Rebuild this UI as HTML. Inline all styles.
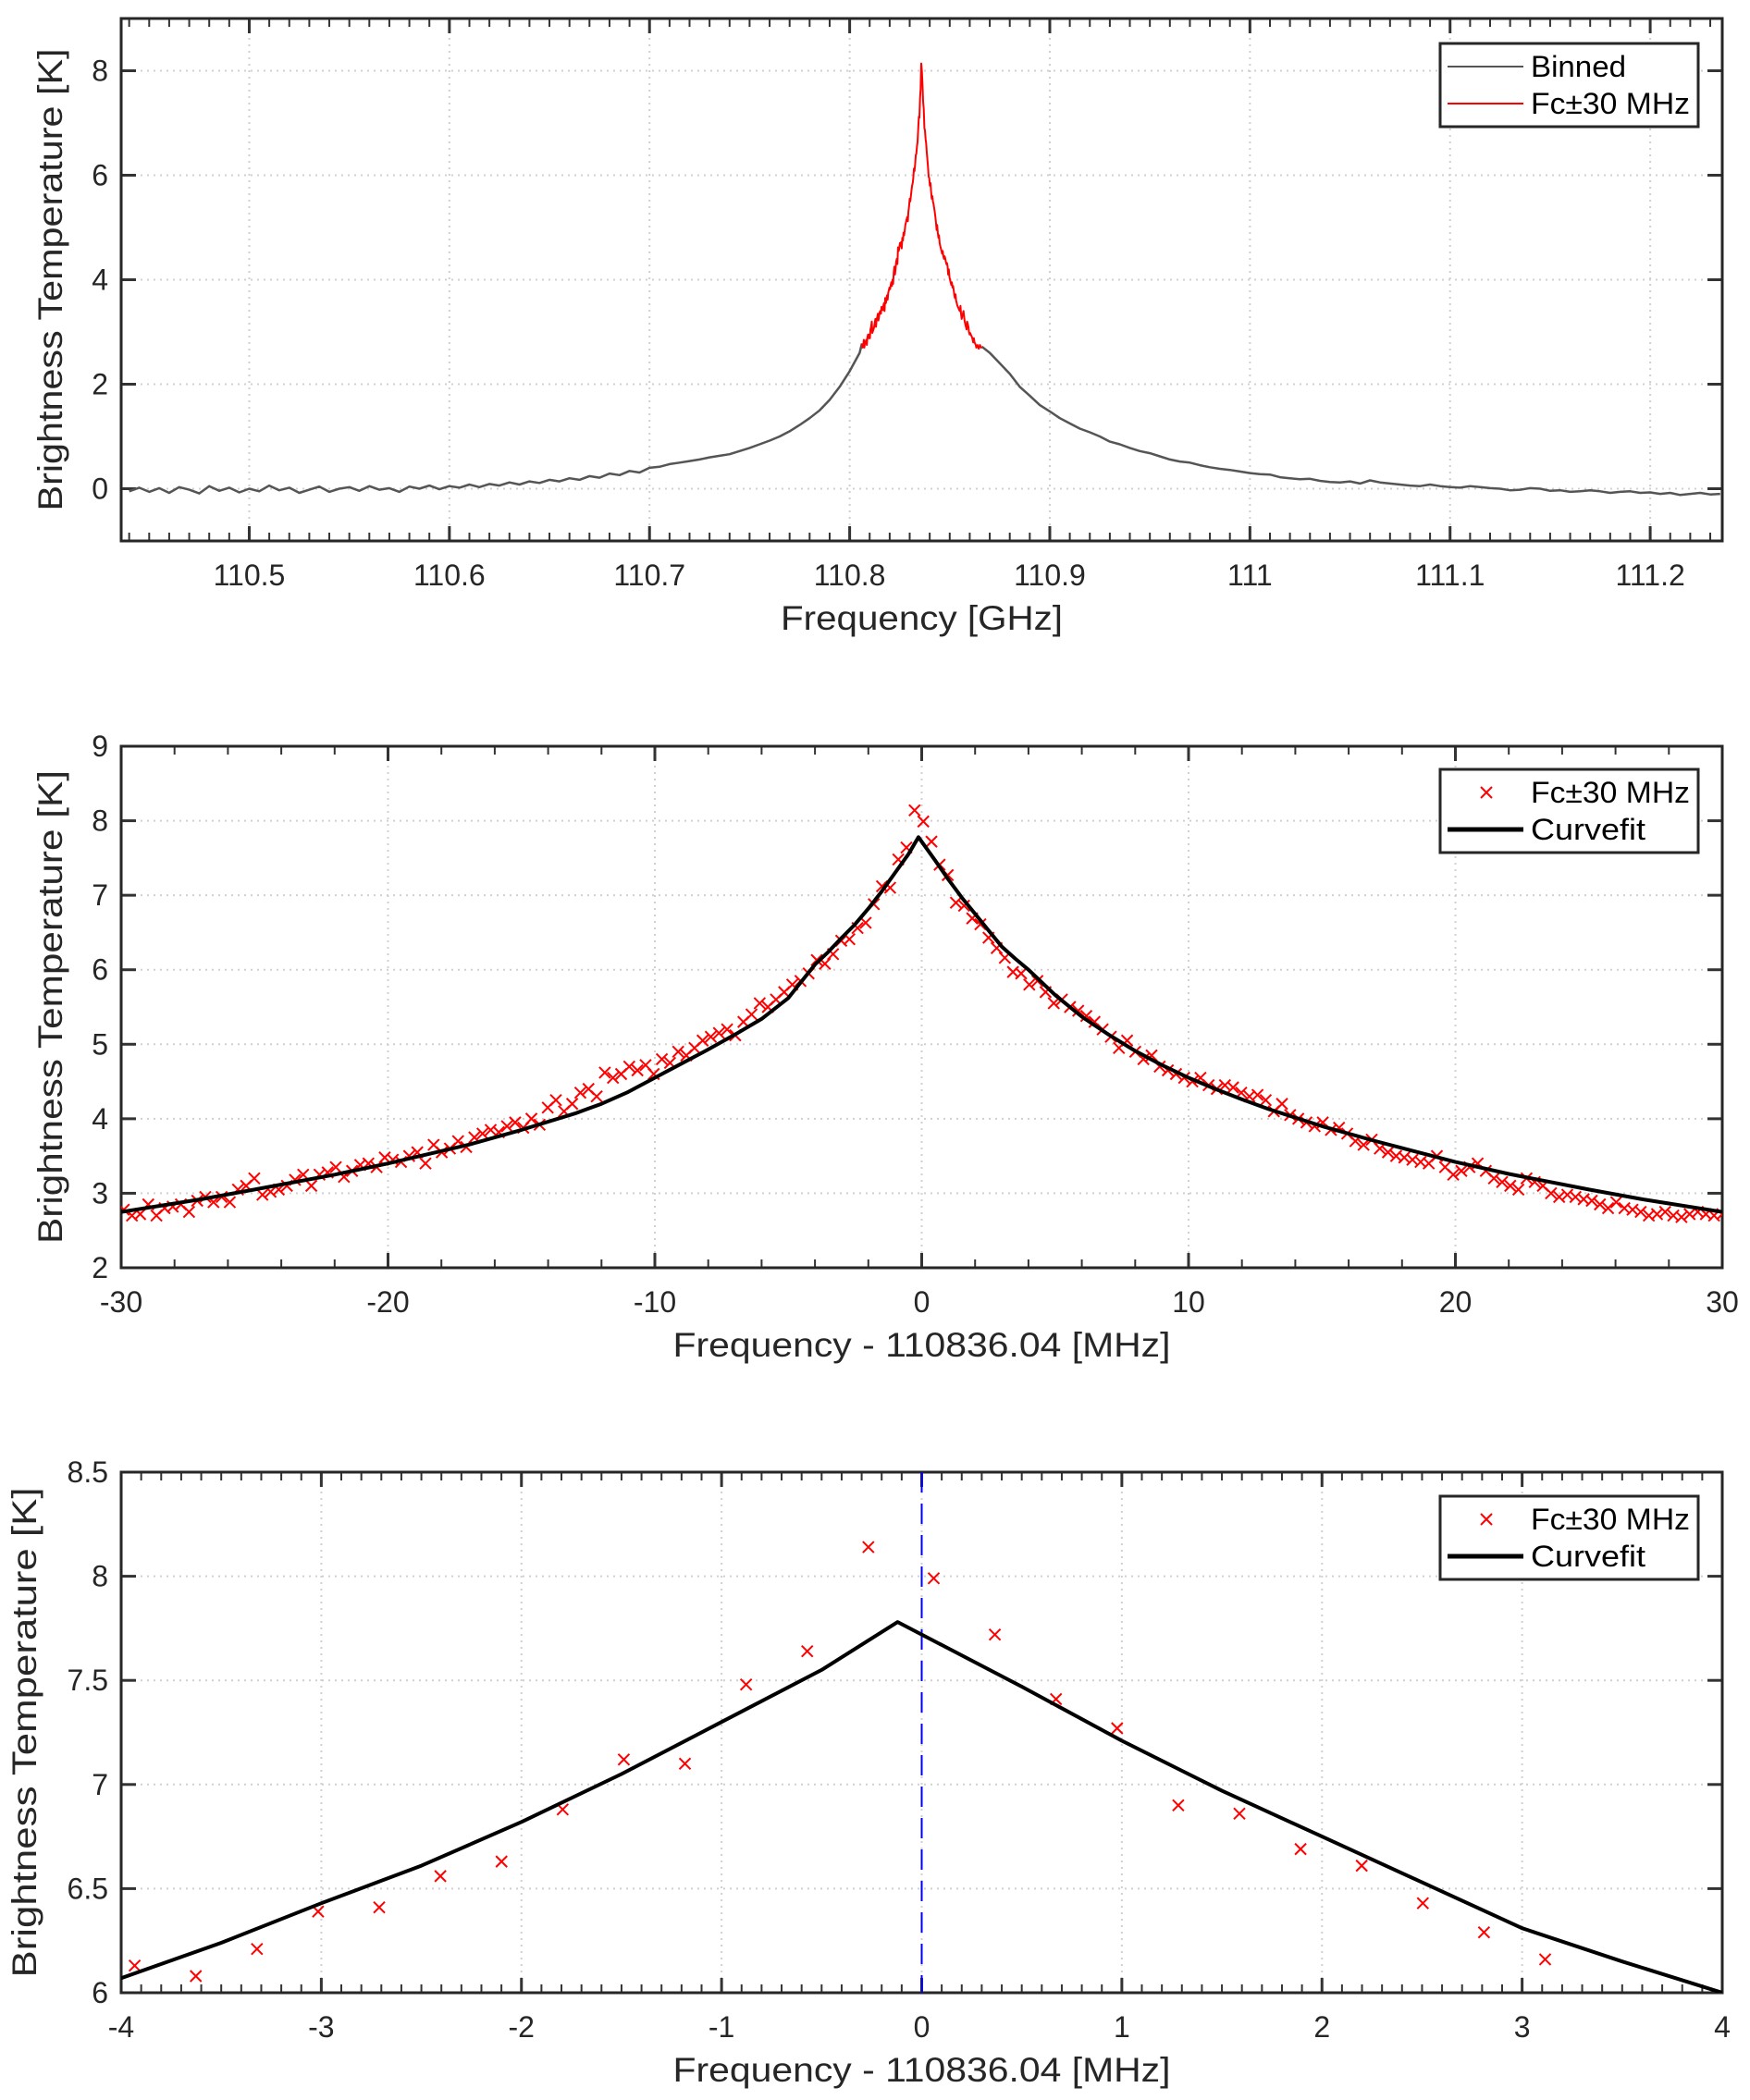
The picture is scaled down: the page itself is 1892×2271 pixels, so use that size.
<!DOCTYPE html>
<html><head><meta charset="utf-8"><style>
html,body{margin:0;background:#fff;overflow:hidden;width:1892px;height:2271px}
svg{display:block;font-family:"Liberation Sans",sans-serif}
</style></head><body>
<svg id="fig" width="1892" height="2271" viewBox="0 0 1892 2271"></svg>
<script>
// ---------- data ----------
const p1Start = 110.44, p1Step = 0.005;
const binnedLeft = [-0.05,0.02,-0.06,0.01,-0.08,0.03,-0.02,-0.09,0.05,-0.04,0.02,-0.07,0.0,-0.05,0.06,-0.03,0.02,-0.08,-0.02,0.04,-0.06,0.0,0.03,-0.04,0.05,-0.02,0.01,-0.06,0.04,0.0,0.06,-0.01,0.05,0.02,0.08,0.03,
 0.09,0.06,0.12,0.08,0.14,0.11,0.17,0.14,0.2,0.17,0.24,0.21,0.29,0.26,0.34,0.31,0.4,
 0.42,0.47,0.5,0.53,0.56,0.6,0.63,
 0.66,0.72,0.78,0.85,0.92,1.0,1.1,1.22,1.35,1.5,1.7,1.95,2.25,2.6];
const binnedRightStart = 110.87;
const binnedRight = [2.6,2.4,2.2,1.95,1.78,1.6,1.48,1.35,1.25,1.15,1.08,1.0,0.9,0.85,0.78,0.72,0.68,0.62,0.56,0.52,0.5,0.45,0.41,0.38,0.36,0.33,0.3,0.28,0.27,0.22,0.2,0.18,0.19,0.15,0.13,0.12,0.14,0.1,0.16,0.12,
 0.1,0.08,0.06,0.05,0.08,0.05,0.03,0.02,0.05,0.03,0.01,0.0,-0.03,-0.02,0.01,0.0,-0.04,-0.03,-0.06,-0.05,-0.03,-0.05,-0.08,-0.06,-0.05,-0.08,-0.07,-0.1,-0.08,-0.12,-0.1,-0.08,-0.11,-0.1];
const centerGHz = 110.83604;
const ptStep = 0.3055;
const leftX0 = -29.9;
const leftY = [2.78,2.70,2.72,2.85,2.70,2.80,2.82,2.85,2.75,2.90,2.95,2.88,2.95,2.88,3.05,3.10,3.20,2.98,3.02,3.05,3.10,3.18,3.25,3.10,3.25,3.28,3.35,3.22,3.30,3.38,3.40,3.35,3.48,
 3.45,3.42,3.50,3.55,3.40,3.65,3.55,3.60,3.70,3.62,3.75,3.80,3.85,3.82,3.90,3.95,3.88,4.00,3.92,4.15,4.25,4.10,4.20,4.35,4.40,4.30,4.62,4.55,4.60,4.70,4.65,4.72,4.60,
 4.80,4.75,4.90,4.85,4.95,5.05,5.10,5.15,5.20,5.12,5.30,5.40,5.55,5.50,5.60,5.70,5.80,5.85,5.95,
 6.13,6.08,6.21,6.39,6.41,6.56,6.63,6.88,7.12,7.10,7.48,7.64,8.14];
const rightX0 = 0.06;
const rightY = [7.99,7.72,7.41,7.27,6.90,6.86,6.69,6.61,6.43,6.29,6.16,
 5.97,5.95,5.80,5.85,5.70,5.55,5.60,5.50,5.45,5.38,5.30,5.20,5.10,4.95,5.05,4.90,4.80,4.85,4.70,4.65,4.60,4.55,
 4.50,4.55,4.45,4.40,4.45,4.42,4.35,4.30,4.32,4.25,4.10,4.20,4.05,4.00,3.95,3.90,3.95,3.85,3.88,3.80,3.70,3.65,3.72,3.60,3.55,3.50,3.48,3.45,3.42,3.40,3.50,3.35,
 3.25,3.30,3.35,3.40,3.30,3.20,3.15,3.10,3.05,3.20,3.15,3.10,3.00,2.95,2.98,2.95,2.92,2.90,2.85,2.80,2.88,2.80,2.78,2.75,2.70,2.72,2.75,2.70,2.68,2.72,2.75,2.72,2.70,2.72];
const fitX = [-30,-27,-25,-22,-20,-17,-15,-13,-12,-11,-10,-9,-8,-7,-6,-5,-4,-3.5,-3,-2.5,-2,-1.5,-1,-0.5,-0.12,0.5,1,1.5,2,2.5,3,3.5,4,5,6,7,8,9,10,11,12,13,15,17,20,22,25,27,30];
const fitY = [2.75,2.92,3.05,3.25,3.40,3.65,3.85,4.07,4.20,4.36,4.55,4.74,4.93,5.13,5.34,5.62,6.07,6.24,6.43,6.61,6.82,7.05,7.30,7.55,7.78,7.47,7.21,6.97,6.75,6.53,6.31,6.15,6.00,5.66,5.37,5.13,4.91,4.72,4.55,4.40,4.26,4.13,3.90,3.70,3.42,3.26,3.05,2.92,2.75];
const p1XTicks = [110.5,110.6,110.7,110.8,110.9,111,111.1,111.2];
const p1YTicks = [0,2,4,6,8];
const p2XTicks = [-30,-20,-10,0,10,20,30];
const p2YTicks = [2,3,4,5,6,7,8,9];
const p3XTicks = [-4,-3,-2,-1,0,1,2,3,4];
const p3YTicks = [6,6.5,7,7.5,8,8.5];

// ---------- helpers ----------
const NS="http://www.w3.org/2000/svg";
const svg=document.getElementById('fig');
function mk(tag,attrs,parent){const e=document.createElementNS(NS,tag);for(const k in attrs)e.setAttribute(k,attrs[k]);(parent||svg).appendChild(e);return e;}
function fmt(v){return String(Math.round(v*1000)/1000);}

function panel(name,L,R,T,B,xmin,xmax,ymin,ymax,xt,yt,xminor,xlabel,xlen,ylen){
  const g=mk('g',{});
  
  
  const sx=v=>L+(v-xmin)/(xmax-xmin)*(R-L);
  const sy=v=>B-(v-ymin)/(ymax-ymin)*(B-T);
  xt.forEach(v=>{const l=mk('line',{x1:sx(v),x2:sx(v),y1:T,y2:B,stroke:'#d0d0d0','stroke-width':2,'stroke-dasharray':'2 5'},g);
    });
  yt.forEach(v=>{const l=mk('line',{x1:L,x2:R,y1:sy(v),y2:sy(v),stroke:'#d0d0d0','stroke-width':2,'stroke-dasharray':'2 5'},g);
    });
  const s=Math.ceil(xmin/xminor-1e-9);
  for(let i=s;i*xminor<=xmax+1e-9;i++){const x=sx(i*xminor);
    mk('line',{x1:x,x2:x,y1:B,y2:B-9,stroke:'#333','stroke-width':2},g);
    mk('line',{x1:x,x2:x,y1:T,y2:T+9,stroke:'#333','stroke-width':2},g);}
  xt.forEach(v=>{const x=sx(v);
    mk('line',{x1:x,x2:x,y1:B,y2:B-16,stroke:'#333','stroke-width':3},g);
    mk('line',{x1:x,x2:x,y1:T,y2:T+16,stroke:'#333','stroke-width':3},g);
    const t=mk('text',{x:x,y:B+48,'text-anchor':'middle','font-size':32,fill:'#262626'},g);t.textContent=fmt(v);
    });
  yt.forEach(v=>{const y=sy(v);
    mk('line',{x1:L,x2:L+16,y1:y,y2:y,stroke:'#333','stroke-width':3},g);
    mk('line',{x1:R,x2:R-16,y1:y,y2:y,stroke:'#333','stroke-width':3},g);
    const t=mk('text',{x:L-14,y:y+11,'text-anchor':'end','font-size':32,fill:'#262626'},g);t.textContent=fmt(v);
    });
  const box=mk('rect',{x:L,y:T,width:R-L,height:B-T,fill:'none',stroke:'#262626','stroke-width':3},g);
  
  const xl=mk('text',{x:(L+R)/2,y:B+96,'text-anchor':'middle','font-size':37,fill:'#262626',textLength:xlen,lengthAdjust:'spacingAndGlyphs'},g);xl.textContent=xlabel;
  
  const yx=L-(name==='panel-3'?92:64);
  const yl=mk('text',{x:yx,y:(T+B)/2,'text-anchor':'middle','font-size':37,fill:'#262626',textLength:ylen,lengthAdjust:'spacingAndGlyphs',transform:`rotate(-90 ${yx} ${(T+B)/2})`},g);
  yl.textContent='Brightness Temperature [K]';
  
  const clip=mk('clipPath',{id:name+'-clip'},g);mk('rect',{x:L,y:T,width:R-L,height:B-T},clip);
  const plot=mk('g',{'clip-path':`url(#${name}-clip)`},g);
  return {g,plot,sx,sy};
}
function poly(p,xs,ys,color,w,name){
  const pts=xs.map((x,i)=>p.sx(x).toFixed(1)+','+p.sy(ys[i]).toFixed(1)).join(' ');
  const e=mk('polyline',{points:pts,fill:'none',stroke:color,'stroke-width':w,'stroke-linejoin':'round'},p.plot);
  return e;
}
function crosses(p,xs,ys,name){
  xs.forEach((x,i)=>{const cx=p.sx(x),cy=p.sy(ys[i]),r=6;
    const e=mk('path',{d:`M${cx-r},${cy-r}L${cx+r},${cy+r}M${cx-r},${cy+r}L${cx+r},${cy-r}`,stroke:'#ff0000','stroke-width':2},p.plot);
    });
}
function legend(x,y,w,h,items,name){
  const g=mk('g',{});
  mk('rect',{x,y,width:w,height:h,fill:'#fff',stroke:'#262626','stroke-width':3},g);
  items.forEach((it,i)=>{const cy=y+25+i*40;
    if(it.type==='line') mk('line',{x1:x+8,x2:x+90,y1:cy,y2:cy,stroke:it.color,'stroke-width':it.w},g);
    else {const cx=x+50,r=6;mk('path',{d:`M${cx-r},${cy-r}L${cx+r},${cy+r}M${cx-r},${cy+r}L${cx+r},${cy-r}`,stroke:'#f00','stroke-width':2},g);}
    const t=mk('text',{x:x+98,y:cy+11,'font-size':32,fill:'#000',textLength:it.len,lengthAdjust:'spacingAndGlyphs'},g);t.textContent=it.label;
    });
}

const leftX=leftY.map((_,i)=>leftX0+i*ptStep);
const rightX=rightY.map((_,i)=>rightX0+i*ptStep);
const ptX=leftX.concat(rightX), ptY=leftY.concat(rightY);

// ---------- panel 1 ----------
const p1=panel('panel-1',131,1862,20,585,110.436,111.236,-1,9,p1XTicks,p1YTicks,0.01,'Frequency [GHz]',305,500);
const bLX=binnedLeft.map((_,i)=>p1Start+i*p1Step);
const redX=ptX.map(v=>centerGHz+v/1000);
poly(p1,bLX.concat([redX[0]]),binnedLeft.concat([ptY[0]]),'#555',2.5,'binned-line-left');
const bRX=binnedRight.map((_,i)=>binnedRightStart+i*p1Step);
poly(p1,[redX[redX.length-1]].concat(bRX),[ptY[ptY.length-1]].concat(binnedRight),'#555',2.5,'binned-line-right');
poly(p1,redX,ptY,'#ff0000',2,'fc-30mhz-line');
legend(1557,47,279,90,[{type:'line',color:'#555',w:2,label:'Binned',len:103},{type:'line',color:'#f00',w:2,label:'Fc±30 MHz',len:172}],'legend-1');

// ---------- panel 2 ----------
const p2=panel('panel-2',131,1862,807,1371,-30,30,2,9,p2XTicks,p2YTicks,2,'Frequency - 110836.04 [MHz]',538,512);
crosses(p2,ptX,ptY,'data-point');
poly(p2,fitX,fitY,'#000',4,'curvefit-line');
legend(1557,832,279,90,[{type:'x',label:'Fc±30 MHz',len:172},{type:'line',color:'#000',w:5,label:'Curvefit',len:124}],'legend-2');

// ---------- panel 3 ----------
const p3=panel('panel-3',131,1862,1592,2155,-4,4,6,8.5,p3XTicks,p3YTicks,0.1,'Frequency - 110836.04 [MHz]',538,530);
const dl=mk('line',{x1:p3.sx(0),x2:p3.sx(0),y1:p3.sy(8.5),y2:p3.sy(6),stroke:'#0000ff','stroke-width':2,'stroke-dasharray':'22 12'},p3.plot);

crosses(p3,ptX,ptY,'data-point');
poly(p3,fitX,fitY,'#000',4,'curvefit-line');
legend(1557,1618,279,90,[{type:'x',label:'Fc±30 MHz',len:172},{type:'line',color:'#000',w:5,label:'Curvefit',len:124}],'legend-3');
</script>
</body></html>
